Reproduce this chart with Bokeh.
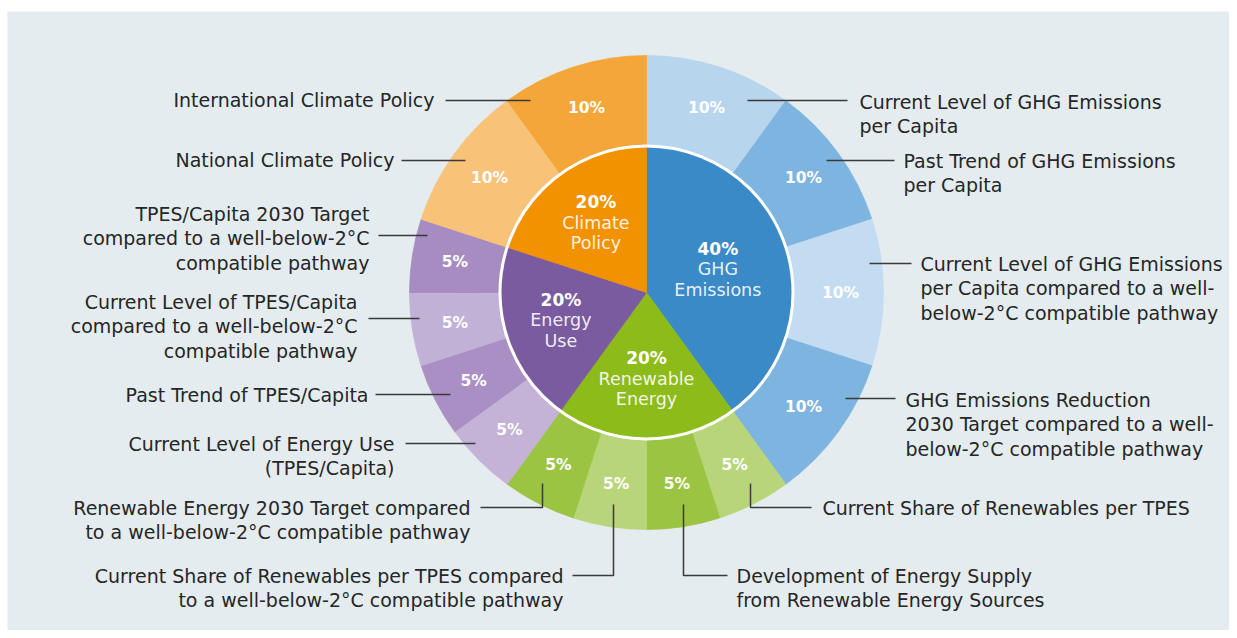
import math
from bokeh.plotting import figure
from bokeh.models import Range1d, ColumnDataSource
from bokeh.core.properties import value
from bokeh.embed import file_html
from bokeh.resources import INLINE

# ---------------- data ----------------
inner_names = ["GHG\nEmissions", "Renewable\nEnergy", "Energy\nUse", "Climate\nPolicy"]
inner_share = [40, 20, 20, 20]

outer_share = [10, 10, 10, 10, 5, 5, 5, 5, 5, 5, 5, 5, 10, 10]
outer_labels = [
    "Current Level of GHG Emissions\nper Capita",
    "Past Trend of GHG Emissions\nper Capita",
    "Current Level of GHG Emissions\nper Capita compared to a well-\nbelow-2°C compatible pathway",
    "GHG Emissions Reduction\n2030 Target compared to a well-\nbelow-2°C compatible pathway",
    "Current Share of Renewables per TPES",
    "Development of Energy Supply\nfrom Renewable Energy Sources",
    "Current Share of Renewables per TPES compared\nto a well-below-2°C compatible pathway",
    "Renewable Energy 2030 Target compared\nto a well-below-2°C compatible pathway",
    "Current Level of Energy Use\n(TPES/Capita)",
    "Past Trend of TPES/Capita",
    "Current Level of TPES/Capita\ncompared to a well-below-2°C\ncompatible pathway",
    "TPES/Capita 2030 Target\ncompared to a well-below-2°C\ncompatible pathway",
    "National Climate Policy",
    "International Climate Policy",
]

# ---------------- style ----------------
inner_colors = ["#3a8ac7", "#8cbb1a", "#7b5b9f", "#f39200"]
outer_colors = ["#b8d5ee", "#7eb5e0", "#c4dcf1", "#7eb5e0",
                "#b9d57a", "#9cc443", "#b9d57a", "#9cc443",
                "#c4b3d7", "#a98fc3", "#c2b1d6", "#a68cc1",
                "#f8c378", "#f4a638"]
inner_label_r = [75, 86, 90, 86]
BG = "#e4ecef"
FONT = value("DejaVu Sans")
CX, CY = 646, -292
R_PIE = 146
R_IN, R_OUT = 147.5, 237
R_PCT = 194

# label layout (image pixel coords): anchor x, first-line y, align, leader points
layout = [
    (859, 101, "left", [(747, 100), (847, 100)]),
    (903, 160, "left", [(826, 160), (894, 160)]),
    (920, 263, "left", [(869, 263), (911, 263)]),
    (905, 399, "left", [(845, 398), (895, 398)]),
    (822, 507, "left", [(750, 483), (750, 507), (811, 507)]),
    (736, 575, "left", [(683, 504), (683, 575), (727, 575)]),
    (563, 575, "right", [(613, 504), (613, 575), (572, 575)]),
    (470, 507, "right", [(542, 483), (542, 507), (480, 507)]),
    (394, 443, "right", [(405, 443), (475, 443)]),
    (368, 394, "right", [(375, 394), (450, 394)]),
    (357, 301, "right", [(368, 318), (419, 318)]),
    (369, 213, "right", [(378, 235), (427, 235)]),
    (394, 159, "right", [(401, 160), (465, 160)]),
    (434, 99, "right", [(445, 100), (530, 100)]),
]
LINE_H = 24.5

p = figure(width=1229, height=630, output_backend="svg", toolbar_location=None,
           x_range=Range1d(7, 1229), y_range=Range1d(-630, -11),
           min_border_left=7, min_border_right=0, min_border_top=11, min_border_bottom=0)
p.axis.visible = False
p.grid.visible = False
p.outline_line_color = None
p.background_fill_color = BG
p.border_fill_color = "white"


def angles(shares):
    total = 100.0
    starts, ends = [], []
    c = 0.0
    for s in shares:
        starts.append(math.pi / 2 - 2 * math.pi * c / total)
        c += s
        ends.append(math.pi / 2 - 2 * math.pi * c / total)
    return starts, ends


o_start, o_end = angles(outer_share)
i_start, i_end = angles(inner_share)

osrc = ColumnDataSource(dict(x=[CX] * len(outer_share), y=[CY] * len(outer_share),
                             s=o_start, e=o_end, c=outer_colors))
p.annular_wedge(x="x", y="y", inner_radius=R_IN, outer_radius=R_OUT,
                inner_radius_units="screen", outer_radius_units="screen",
                start_angle="s", end_angle="e", direction="clock",
                fill_color="c", line_color="c", line_width=0.8, source=osrc)

isrc = ColumnDataSource(dict(x=[CX] * 4, y=[CY] * 4, s=i_start, e=i_end, c=inner_colors))
p.wedge(x="x", y="y", radius=R_PIE, radius_units="screen",
        start_angle="s", end_angle="e", direction="clock",
        fill_color="c", line_color="c", line_width=0.8, source=isrc)

p.circle(x=[CX], y=[CY], radius=R_PIE + 0.5, radius_units="screen",
         fill_color=None, line_color="white", line_width=3)

# outer percentage labels
px, py, pt = [], [], []
for s, e, v in zip(o_start, o_end, outer_share):
    m = (s + e) / 2
    px.append(CX + R_PCT * math.cos(m))
    py.append(CY + R_PCT * math.sin(m))
    pt.append(f"{v}%")
p.text(x=px, y=py, text=pt, text_align="center", text_baseline="middle",
       text_font=FONT, text_font_size="15.5px", text_font_style="bold", text_color="white")

# inner labels
bx, by, bt, nx, ny, nt = [], [], [], [], [], []
for s, e, v, name, r in zip(i_start, i_end, inner_share, inner_names, inner_label_r):
    m = (s + e) / 2
    ax = CX + r * math.cos(m)
    ay = CY + r * math.sin(m)
    bx.append(ax); by.append(ay + 20.5); bt.append(f"{v}%")
    for k, ln in enumerate(name.split("\n")):
        nx.append(ax); ny.append(ay - 20.5 * k); nt.append(ln)
p.text(x=bx, y=by, text=bt, text_align="center", text_baseline="middle",
       text_font=FONT, text_font_size="17px", text_font_style="bold", text_color="white")
p.text(x=nx, y=ny, text=nt, text_align="center", text_baseline="middle",
       text_font=FONT, text_font_size="17.5px", text_color="white", text_alpha=0.9)

# external labels and leader lines
xs, ys = [], []
lt = {"left": ([], [], []), "right": ([], [], [])}
for lab, (ax, ay, al, pts) in zip(outer_labels, layout):
    xs.append([q[0] for q in pts])
    ys.append([-q[1] for q in pts])
    for k, ln in enumerate(lab.split("\n")):
        lt[al][0].append(ax)
        lt[al][1].append(-(ay + LINE_H * k))
        lt[al][2].append(ln)
p.multi_line(xs=xs, ys=ys, line_color="#3a3a3a", line_width=1.5)
for al, (tx, ty, tt) in lt.items():
    p.text(x=tx, y=ty, text=tt, text_align=al, text_baseline="middle",
           text_font=FONT, text_font_size="19px", text_color="#262626")

open("out.html", "w").write(file_html(p, INLINE))
